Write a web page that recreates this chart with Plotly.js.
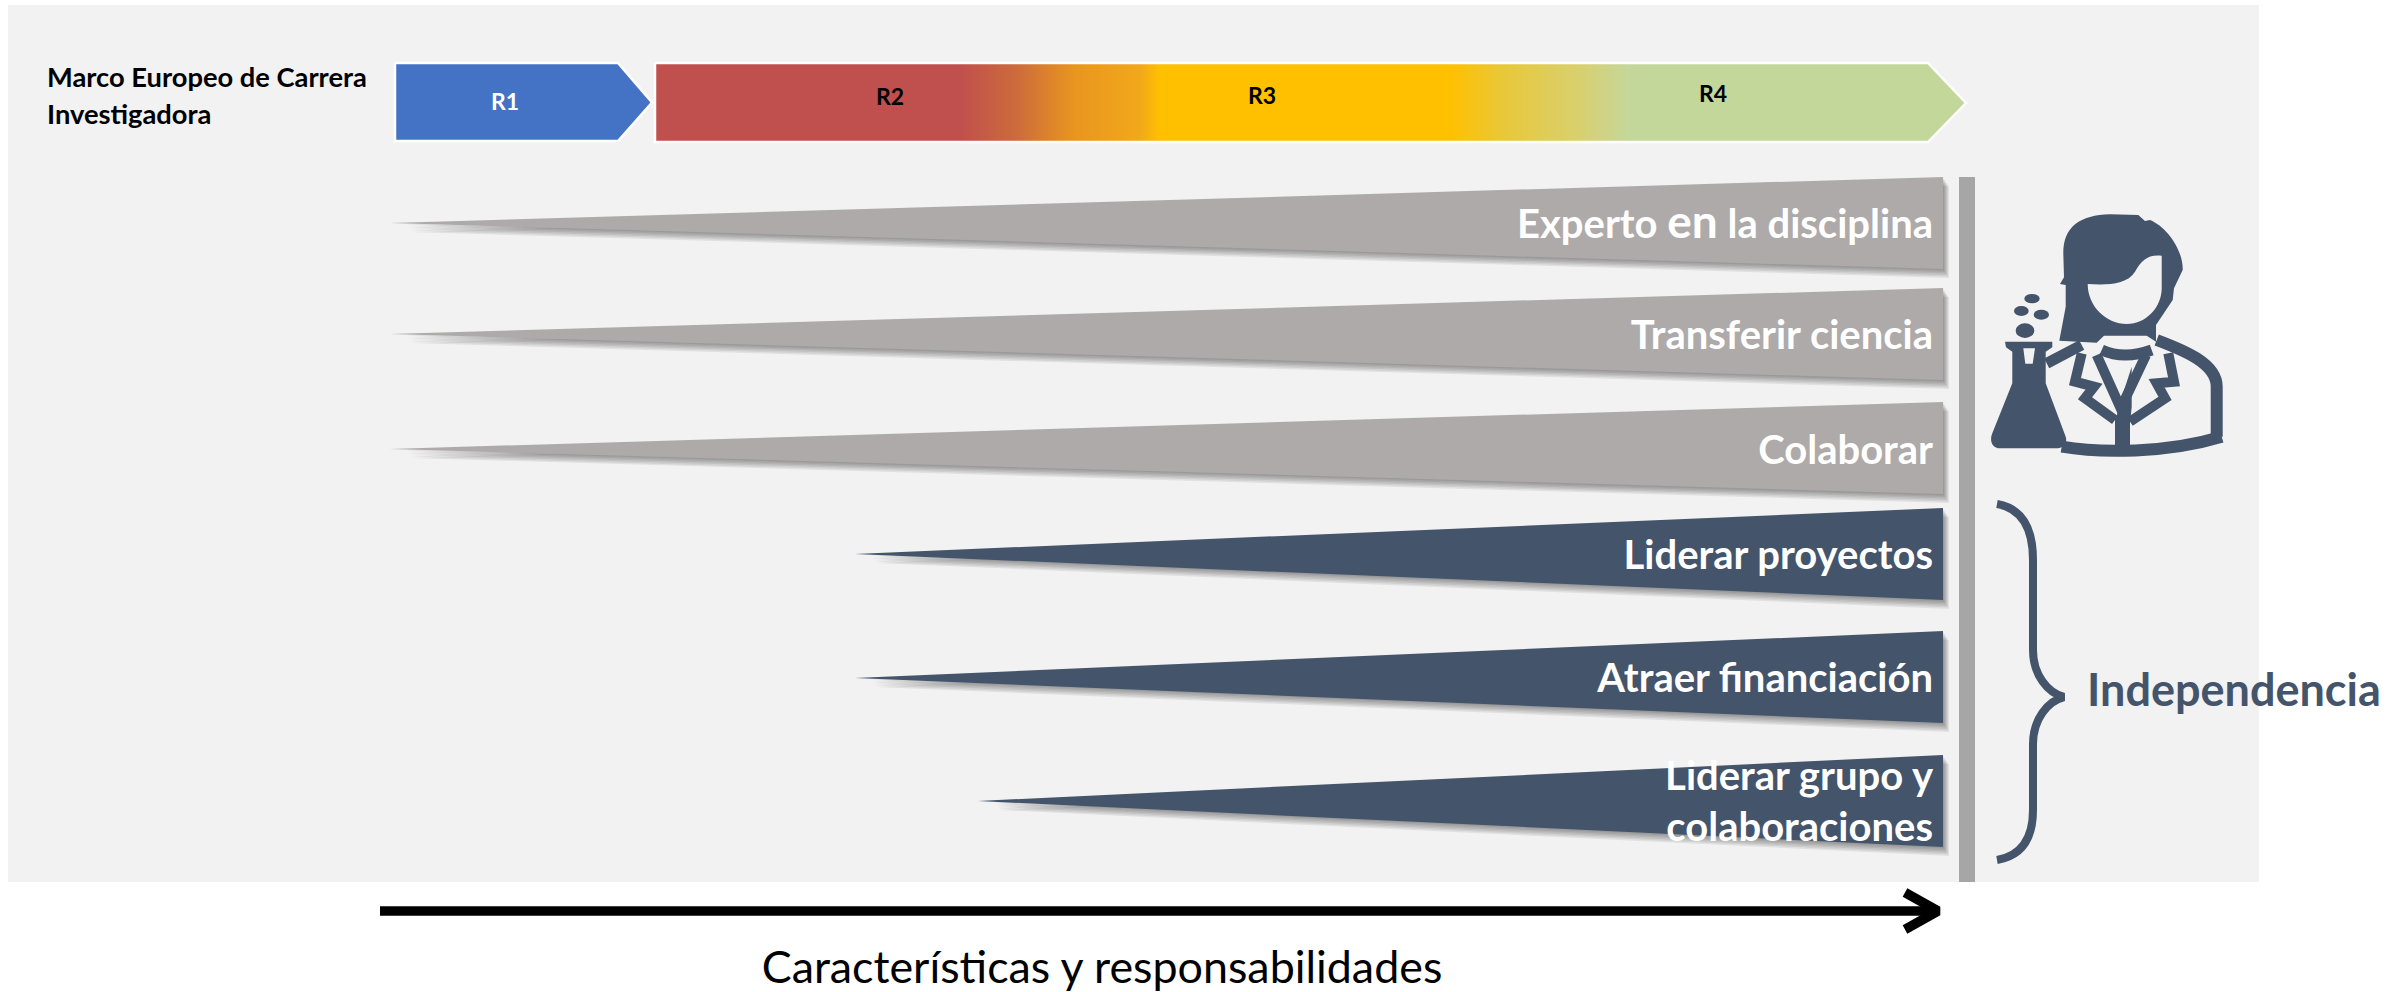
<!DOCTYPE html>
<html><head><meta charset="utf-8">
<script src="https://cdn.plot.ly/plotly-3.0.1.min.js"></script>
<style>html,body{margin:0;padding:0;background:#fff}</style></head>
<body><div id="chart" style="width:2392px;height:992px"></div>
<script>
// Responsibilities (wedges)
const labels = ["Experto <span style=\"font-size:46px\">en</span> la disciplina","Transferir ciencia","Colaborar","Liderar proyectos","Atraer financiación"];
const labelsY = [228,339,454,559,682];
const groupLabels = ["Liderar grupo y","colaboraciones"];
const groupLabelsY = [780,831];
const wedgeTipX = [390,390,390,855,855,978];
const wedgeTipY = [223,334,449,554,678,801];
const wedgeTopY = [177,288,402,508,631,755];
const wedgeBottomY = [269,380,494,600,723,847];
const wedgeEndX = 1943;
const wedgeColors = ["#AEAAAA","#AEAAAA","#AEAAAA","#44546A","#44546A","#44546A"];
// Career stages
const stages = ["R1","R2","R3","R4"];
const stageX = [505,890,1262,1713];
const stageY = [104,99,98,96];
const stageColors = ["#FFFFFF","#000000","#000000","#000000"];
const headerLines = ["Marco Europeo de Carrera","Investigadora"];
const headerY = [80,117];
const caption = "Características y responsabilidades";
const groupName = "Independencia";

const traces = [];
const fs = 40;
function base(x,y,extra){return Object.assign({x,y,type:'scatter',mode:'lines',hoverinfo:'skip',showlegend:false,line:{width:0}},extra);}

// Soft shadows
const shadowSteps = [[1,1.5],[2,3],[3,4.5],[4,6],[5,7.5],[6,9]];
wedgeTipX.forEach((tx,i)=>{
  shadowSteps.forEach(s=>{
    traces.push(base([tx+s[0]+14,wedgeEndX+s[0],wedgeEndX+s[0],tx+s[0]+14],
      [wedgeTipY[i]+s[1],wedgeTopY[i]+s[1],wedgeBottomY[i]+s[1],wedgeTipY[i]+s[1]],
      {fill:'toself',fillcolor:'rgba(0,0,0,0.07)'}));
  });
});
// Wedges
wedgeTipX.forEach((tx,i)=>{
  traces.push(base([tx,wedgeEndX,wedgeEndX,tx],[wedgeTipY[i],wedgeTopY[i],wedgeBottomY[i],wedgeTipY[i]],
    {fill:'toself',fillcolor:wedgeColors[i]}));
});
// Stage arrows
traces.push(base([395,618,652,618,395,395],[63,63,102.5,141,141,63],
  {fill:'toself',fillcolor:'#4472C4',line:{width:2.5,color:'#FFFFFF'}}));
traces.push(base([655,1928,1966,1928,655,655],[63,63,103,142,142,63],
  {fill:'toself',line:{width:2.5,color:'#FFFFFF'},
   fillgradient:{type:'horizontal',colorscale:[[0,'#C0504D'],[0.233,'#C0504D'],[0.275,'#CC6A3C'],[0.32,'#E8961F'],[0.37,'#F2A81A'],[0.385,'#FFC000'],[0.607,'#FFC000'],[0.648,'#E8C83A'],[0.706,'#D8D070'],[0.744,'#C4D79B'],[1,'#C4D79B']]}}));
// Labels
function textTrace(x,y,text,color,size,pos,weight){
  return {x,y,text,type:'scatter',mode:'text',hoverinfo:'skip',showlegend:false,textposition:pos,
    textfont:{family:'Lato, "Open Sans", sans-serif',size,color,weight}};
}
traces.push(textTrace(labels.map(()=>1933),labelsY,labels,'#FFFFFF',fs,'middle left',700));
traces.push(textTrace(groupLabels.map(()=>1933),groupLabelsY,groupLabels,'#FFFFFF',fs,'middle left',700));
traces.push(textTrace(stageX,stageY,stages,stageColors,23,'middle center',700));
traces.push(textTrace(headerLines.map(()=>47),headerY,headerLines,'#000000',27.3,'middle right',700));
traces.push(textTrace([2087],[695],[groupName],'#44546A',45,'middle right',700));
traces.push(textTrace([1102],[972],[caption],'#000000',44.8,'middle center',400));
// Direction arrow
traces.push(base([380,1934],[911,911],{line:{width:9.5,color:'#000'}}));
traces.push(base([1905,1938,1905],[892.5,911,929.5],{line:{width:9.5,color:'#000'}}));

// Icon paths in a local 3x frame
const iconX = 1900, iconY = 160;
function ic(s){return s.replace(/(-?\d+(?:\.\d+)?)[ ,](-?\d+(?:\.\d+)?)/g,(m,a,b)=>(iconX+a/3).toFixed(1)+','+(iconY+b/3).toFixed(1));}
const dark = '#44546A';
function solid(p){return {type:'path',path:ic(p),fillcolor:dark,line:{width:0},fillrule:'evenodd',layer:'above'};}
function stroke(p,w){return {type:'path',path:ic(p),line:{width:w,color:dark},layer:'above'};}
function ell(cx,cy,rx,ry){return {type:'circle',x0:iconX+(cx-rx)/3,x1:iconX+(cx+rx)/3,y0:iconY+(cy-ry)/3,y1:iconY+(cy+ry)/3,fillcolor:dark,line:{width:0},layer:'above'};}
const iconShapes = [
 solid('M478 542 L497 440 L497 375 L480 372 L492 352 L490 280 C490 200 540 165 630 163 L715 165 L735 183 L750 180 C800 200 850 270 848 330 L822 385 L818 420 L768 495 L768 545 L740 527 L612 527 L590 548 Z M563 372 C620 375 680 375 705 335 C725 300 745 282 785 287 L785 385 C785 440 740 492 680 492 C620 492 563 440 563 372 Z'),
 solid('M315 545 L457 545 L457 562 L437 575 L437 670 L497 830 C505 860 480 865 470 865 L300 865 C275 865 268 840 277 820 L337 670 L337 575 L318 562 Z M370 565 L405 565 L398 611 L376 611 Z'),
 ell(396,416,23,14),ell(364,453,22,15),ell(424,464,23,15),ell(375,512,28,22),
 stroke('M440 610 L545 555',11),
 stroke('M770 540 C850 570 950 610 950 680 L950 830',12),
 stroke('M485 860 C600 880 800 880 965 830',12),
 stroke('M545 580 L525 665 L582 680 L555 715 L645 780',10),
 stroke('M805 580 L822 665 L770 670 L795 715 L690 785',10),
 stroke('M590 585 L662 745 L738 585',10),
 stroke('M605 570 C650 590 700 590 755 570',11),
 solid('M658 735 L695 620 L695 740 L690 790 L645 790 Z'),
 solid('M645 770 L690 770 L690 860 L645 860 Z')
];

const layout = {
  width:2392,height:992,margin:{l:0,r:0,t:0,b:0},paper_bgcolor:'#FFFFFF',plot_bgcolor:'#FFFFFF',showlegend:false,
  xaxis:{range:[0,2392],visible:false,fixedrange:true},
  yaxis:{range:[992,0],visible:false,fixedrange:true},
  shapes:[
    {type:'rect',x0:8,x1:2259,y0:5,y1:882,fillcolor:'#F2F2F2',line:{width:0},layer:'below'},
    {type:'rect',x0:1959,x1:1975,y0:177,y1:882,fillcolor:'#A6A6A6',line:{width:0},layer:'below'},
    {type:'path',path:'M1997,504 C2020,508 2033,525 2033,560 L2033,650 C2033,675 2048,693 2064,697 C2048,701 2033,719 2033,744 L2033,810 C2033,840 2020,856 1997,860',line:{width:8,color:dark},layer:'above'}
  ].concat(iconShapes)
};
Plotly.newPlot('chart',traces,layout,{staticPlot:true,displayModeBar:false});
</script></body></html>
